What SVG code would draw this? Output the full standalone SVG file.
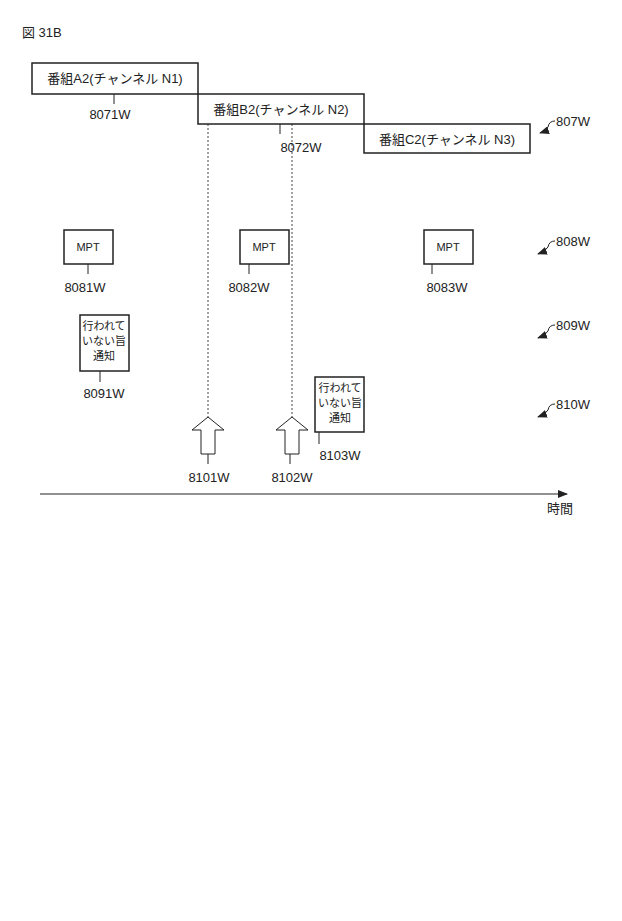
<svg xmlns="http://www.w3.org/2000/svg" width="622" height="921" viewBox="0 0 622 921">
<style>
text{font-family:"Liberation Sans","Noto Sans CJK JP",sans-serif;font-size:13px;fill:#222}
.s{font-size:11px}
.b{fill:#fff;stroke:#222;stroke-width:1.5}
.l{fill:none;stroke:#222;stroke-width:1}
.d{fill:none;stroke:#444;stroke-width:1;stroke-dasharray:2,2}
</style>
<defs><marker id="ah" markerWidth="10" markerHeight="8" refX="9" refY="4" orient="auto"><path d="M0,0L10,4L0,8z" fill="#222"/></marker></defs>
<text x="22" y="37">図 31B</text>
<g id="connectors">
<line class="d" x1="208" y1="124" x2="208" y2="417"/>
<line class="d" x1="292" y1="124" x2="292" y2="417"/>
<line class="l" x1="40" y1="494" x2="567" y2="494" marker-end="url(#ah)"/>
<path class="l" d="M555,121 Q549,121 548,127 Q546,131 540,133" marker-end="url(#ah)"/>
<path class="l" d="M555,241 Q549,241 548,247 Q546,251 538,254" marker-end="url(#ah)"/>
<path class="l" d="M555,325 Q549,325 548,331 Q546,335 538,338" marker-end="url(#ah)"/>
<path class="l" d="M555,404 Q549,404 548,410 Q546,414 538,417" marker-end="url(#ah)"/>
<path class="l" d="M114,94 L114,104"/><path class="l" d="M280,124 L280,134"/>
<path class="l" d="M88,264 L88,274"/><path class="l" d="M249,264 L249,274"/><path class="l" d="M432,264 L432,274"/>
<path class="l" d="M100,371 L100,382"/><path class="l" d="M319,432 L319,444"/>
<path class="l" d="M208,454 L208,464"/><path class="l" d="M290,454 L290,464"/>
</g>
<g id="n8071W"><rect class="b" x="32" y="63" width="166" height="31"/><text x="115" y="83" text-anchor="middle">番組A2(チャンネル N1)</text><text x="110" y="119" text-anchor="middle">8071W</text></g>
<g id="n8072W"><rect class="b" x="198" y="94" width="166" height="30"/><text x="281" y="114" text-anchor="middle">番組B2(チャンネル N2)</text><text x="301" y="152" text-anchor="middle">8072W</text></g>
<g id="n8073W"><rect class="b" x="364" y="124" width="166" height="29"/><text x="447" y="144" text-anchor="middle">番組C2(チャンネル N3)</text></g>
<text x="556" y="126">807W</text>
<text x="556" y="246">808W</text>
<text x="556" y="330">809W</text>
<text x="556" y="409">810W</text>
<g id="n8081W"><rect class="b" x="64" y="230" width="49" height="34"/><text class="s" x="88" y="251" text-anchor="middle">MPT</text><text x="85" y="292" text-anchor="middle">8081W</text></g>
<g id="n8082W"><rect class="b" x="240" y="230" width="49" height="34"/><text class="s" x="264" y="251" text-anchor="middle">MPT</text><text x="249" y="292" text-anchor="middle">8082W</text></g>
<g id="n8083W"><rect class="b" x="424" y="230" width="49" height="34"/><text class="s" x="448" y="251" text-anchor="middle">MPT</text><text x="447" y="292" text-anchor="middle">8083W</text></g>
<g id="n8091W"><rect class="b" x="80" y="315" width="49" height="56"/><text class="s" x="104" y="330" text-anchor="middle">行われて</text><text class="s" x="104" y="345" text-anchor="middle">いない旨</text><text class="s" x="104" y="360" text-anchor="middle">通知</text><text x="104" y="398" text-anchor="middle">8091W</text></g>
<g id="n8103W"><rect class="b" x="315" y="377" width="49" height="55"/><text class="s" x="340" y="392" text-anchor="middle">行われて</text><text class="s" x="340" y="407" text-anchor="middle">いない旨</text><text class="s" x="340" y="422" text-anchor="middle">通知</text><text x="340" y="460" text-anchor="middle">8103W</text></g>
<g id="n8101W"><path class="b" d="M208,417 L224,430 L215,430 L215,454 L201,454 L201,430 L192,430 Z" style="stroke-width:1"/><text x="209" y="482" text-anchor="middle">8101W</text></g>
<g id="n8102W"><path class="b" d="M292,417 L308,430 L299,430 L299,454 L285,454 L285,430 L276,430 Z" style="stroke-width:1"/><text x="292" y="482" text-anchor="middle">8102W</text></g>
<text x="547" y="513">時間</text>
</svg>
